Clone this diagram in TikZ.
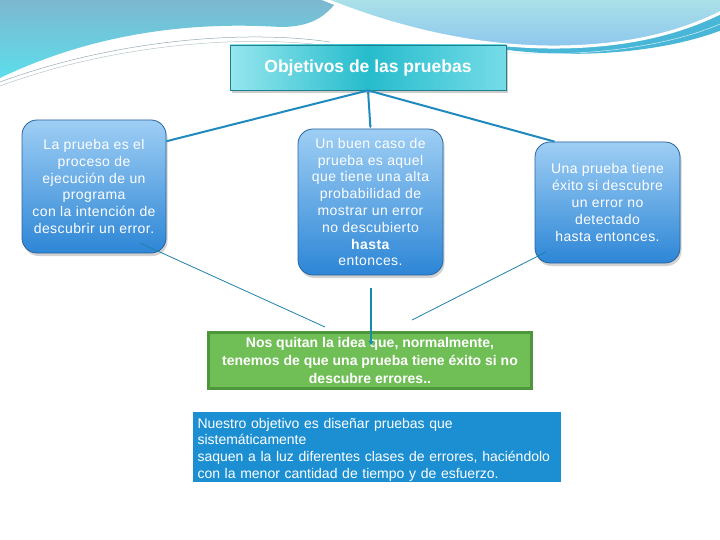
\documentclass[tikz,border=0pt]{standalone}
\usepackage{fontspec}
\setmainfont{Liberation Sans}
\usetikzlibrary{shadows,arrows.meta}
\definecolor{bandtop}{RGB}{125,183,208}
\definecolor{bandbot}{RGB}{92,222,235}
\definecolor{wavetop}{RGB}{172,226,232}
\definecolor{wavebot}{RGB}{140,198,238}
\definecolor{waveband}{RGB}{72,182,214}
\definecolor{decoline}{RGB}{150,172,180}
\definecolor{boxtop}{RGB}{158,206,244}
\definecolor{boxbot}{RGB}{45,134,214}
\definecolor{boxedge}{RGB}{40,100,158}
\definecolor{titleL}{RGB}{150,230,238}
\definecolor{titleM}{RGB}{38,188,204}
\definecolor{titleR}{RGB}{118,220,232}
\definecolor{titleedge}{RGB}{30,128,140}
\definecolor{conn}{RGB}{32,138,190}
\definecolor{thinconn}{RGB}{30,130,170}
\definecolor{arrowc}{RGB}{22,140,165}
\definecolor{greenfill}{RGB}{112,190,86}
\definecolor{greenedge}{RGB}{78,150,60}
\definecolor{bluefill}{RGB}{27,143,210}
\begin{document}
\hyphenpenalty=10000
\exhyphenpenalty=10000
\begin{tikzpicture}[x=1pt,y=-1pt,
  bluebox/.style={rounded corners=15pt, draw=boxedge, line width=0.8pt,
    top color=boxtop, bottom color=boxbot, text=white, align=center,
    font=\fontsize{14}{16.8}\selectfont\addfontfeature{LetterSpace=3},
    drop shadow={opacity=0.35, shadow xshift=1.5pt, shadow yshift=-3pt},
    inner sep=0pt},
  titlebox/.style={draw=titleedge, line width=0.8pt, left color=titleL,
    right color=titleR, middle color=titleM, text=white,
    font=\fontsize{17.5}{20}\selectfont\bfseries,
    drop shadow={opacity=0.4, shadow xshift=1.5pt, shadow yshift=-3pt},
    minimum width=276pt, minimum height=45pt, inner sep=0pt},
  greenbox/.style={fill=greenfill, draw=greenedge, line width=3pt, text=white,
    font=\fontsize{14}{18}\selectfont\bfseries, align=center,
    minimum width=323pt, minimum height=56pt, inner sep=0pt},
  bluerect/.style={fill=bluefill, text=white, align=left, inner xsep=5pt,
    inner ysep=1pt, font=\fontsize{14}{16.7}\selectfont},
  topconn/.style={draw=conn, line width=2pt},
  lowconn/.style={draw=thinconn, line width=0.8pt},
]
\useasboundingbox (0,0) rectangle (720,540);
\fill[white] (0,0) rectangle (720,540);
% decorative top band
\shade[top color=bandtop, bottom color=bandbot]
  (0,0) -- (338,0) .. controls (326,16) and (312,27) .. (280,27)
  .. controls (200,22) and (100,30) .. (0,78) -- cycle;
\draw[decoline, line width=0.5pt] (0,82) .. controls (120,38) and (250,30) .. (330,42);
\draw[decoline!70, line width=0.5pt] (0,86) .. controls (120,42) and (250,35) .. (330,46);
\fill[waveband] (470,44) .. controls (560,62) and (660,54) .. (722,30) -- (722,10)
  .. controls (680,32) and (600,48) .. (470,44) -- cycle;
\shadedraw[top color=wavetop, bottom color=wavebot, draw=white, line width=3pt]
  (321,-2) .. controls (400,30) and (480,48) .. (560,47)
  .. controls (640,46) and (690,28) .. (722,12) -- (722,-2) -- cycle;
\draw[white!80!waveband, line width=0.5pt] (480,50) .. controls (560,60) and (660,50) .. (720,24);

% nodes
\node[titlebox] (title) at (368,67.5) {Objetivos de las pruebas};
\node[bluebox, minimum width=144pt, minimum height=133pt] (lb) at (94,186.5)
  {La prueba es el\\proceso de\\ejecución de un\\programa\\con la intención de\\descubrir un error.};
\node[bluebox, minimum width=145pt, minimum height=146pt] (mb) at (370.5,202)
  {Un buen caso de\\prueba es aquel\\que tiene una alta\\probabilidad de\\mostrar un error\\no descubierto\\\textbf{hasta}\\entonces.};
\node[bluebox, minimum width=145pt, minimum height=121pt] (rb) at (607.5,202.5)
  {Una prueba tiene\\éxito si descubre\\un error no\\detectado\\hasta entonces.};
\node[greenbox] (gb) at (370,360)
  {Nos quitan la idea que, normalmente,\\tenemos de que una prueba tiene éxito si no\\descubre errores..};
\node[bluerect, text width=358pt] (nb) at (376.5,447)
  {\rule{0pt}{15pt}Nuestro objetivo es diseñar pruebas que\\sistemáticamente\\saquen a la luz diferentes clases de errores, haciéndolo\\con la menor cantidad de tiempo y de esfuerzo.};

% connectors
\draw[topconn] (title.south) -- (lb.32);
\draw[topconn] (title.south) -- (rb.131);
\draw[topconn, {Latex[length=3pt,width=3pt]}-{Latex[length=3pt,width=3pt]}] (title.south) -- (mb.north);
\coordinate (a1) at (140,243);
\coordinate (a2) at (325,327);
\coordinate (a3) at (546,252);
\coordinate (a4) at (412,320);
\coordinate (v1) at (371,288);
\coordinate (v2) at (371,346);
\draw[lowconn] (a1) -- (a2);
\draw[lowconn] (a3) -- (a4);
\draw[draw=arrowc, line width=2pt, -{Latex[length=5pt,width=5pt]}] (v1) -- (v2);
\end{tikzpicture}
\end{document}
